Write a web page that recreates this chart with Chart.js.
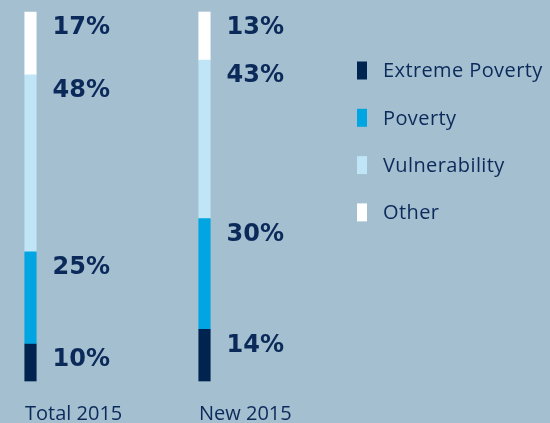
<!DOCTYPE html>
<html>
<head>
<meta charset="utf-8">
<script src="https://cdn.jsdelivr.net/npm/chart.js@4"></script>
<style>
html, body { margin: 0; padding: 0; background: #a3bfd0; overflow: hidden; }
#wrap { position: relative; width: 550px; height: 423px; }
</style>
</head>
<body>
<div id="wrap"><canvas id="povertyChart"></canvas></div>
<script>
// Data (percent of total)
const categories = ['Total 2015', 'New 2015'];
const seriesNames = ['Extreme Poverty', 'Poverty', 'Vulnerability', 'Other'];
const extremePoverty = [10, 14];
const poverty = [25, 30];
const vulnerability = [48, 43];
const other = [17, 13];

const seriesColors = ['#00234f', '#00a5e2', '#bfe5f7', '#ffffff'];
const textColor = '#0b2a5a';
const labelFont = '"Open Sans", "Noto Sans", sans-serif';

// Percent labels next to each segment, near its top
const segmentLabels = {
    id: 'segmentLabels',
    afterDatasetsDraw(chart) {
        const ctx = chart.ctx;
        ctx.save();
        ctx.font = 'bold 24px "DejaVu Sans", sans-serif';
        ctx.fillStyle = textColor;
        ctx.textAlign = 'left';
        ctx.textBaseline = 'middle';
        chart.data.datasets.forEach((ds, di) => {
            chart.getDatasetMeta(di).data.forEach((bar, i) => {
                ctx.fillText(ds.data[i] + '%', bar.x + 22, bar.y + 16);
            });
        });
        ctx.restore();
    }
};

// Legend on the right, drawn from the datasets
const sideLegend = {
    id: 'sideLegend',
    afterDraw(chart) {
        const ctx = chart.ctx;
        ctx.save();
        ctx.font = '20px ' + labelFont;
        ctx.letterSpacing = '0.4px';
        ctx.textAlign = 'left';
        ctx.textBaseline = 'middle';
        chart.data.datasets.forEach((ds, i) => {
            const y = 70.5 + i * 47.3;
            ctx.fillStyle = ds.backgroundColor;
            ctx.fillRect(357, y - 9, 10, 18);
            ctx.fillStyle = textColor;
            ctx.fillText(ds.label, 383, y + 1);
        });
        ctx.restore();
    }
};

const seriesValues = [extremePoverty, poverty, vulnerability, other];

new Chart(document.getElementById('povertyChart'), {
    type: 'bar',
    data: {
        labels: categories,
        datasets: seriesNames.map((name, i) => ({
            label: name,
            data: seriesValues[i],
            backgroundColor: seriesColors[i],
            borderWidth: 0,
            barThickness: 11.5,
            clip: false
        }))
    },
    options: {
        responsive: true,
        maintainAspectRatio: false,
        animation: false,
        layout: { padding: { left: 30.5, right: 345.5, top: 12, bottom: 0 } },
        scales: {
            x: {
                stacked: true,
                offset: false,
                grid: { display: false, drawTicks: false },
                border: { display: false },
                ticks: {
                    align: 'start',
                    labelOffset: -5.5,
                    padding: 21,
                    autoSkip: false,
                    maxRotation: 0,
                    color: textColor,
                    font: { family: labelFont, size: 20 }
                },
                afterFit: scale => { scale.height = 42; }
            },
            y: {
                stacked: true,
                min: 0,
                max: 100,
                display: false
            }
        },
        plugins: {
            legend: { display: false },
            tooltip: { enabled: false }
        }
    },
    plugins: [segmentLabels, sideLegend]
});
</script>
</body>
</html>
